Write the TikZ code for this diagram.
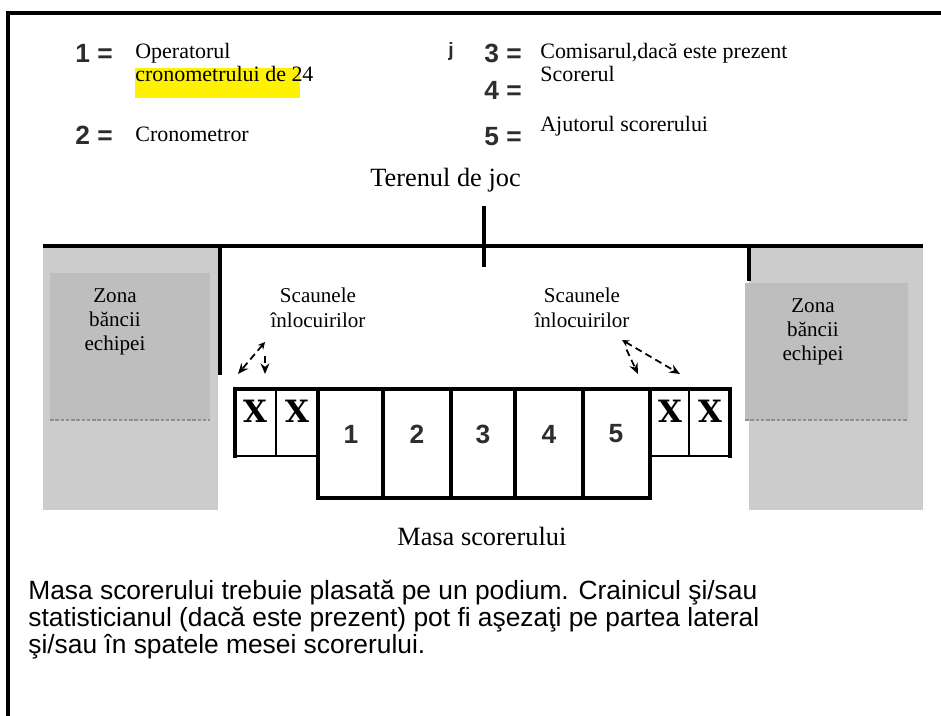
\documentclass[tikz,border=0pt]{standalone}
\usepackage{fontspec}
\setmainfont{Liberation Serif}
\setsansfont{Liberation Sans}
\newfontfamily\slabfont{DejaVu Serif}
\usetikzlibrary{positioning, arrows.meta}

\definecolor{benchgray}{RGB}{204,204,204}
\definecolor{zonegray}{RGB}{190,190,190}
\definecolor{numgray}{RGB}{45,45,45}

\begin{document}
\begin{tikzpicture}[
    x=0.02cm, y=-0.02cm,
    >=Stealth,
    legend/.style={
        anchor=base west,
        inner sep=0pt,
        font=\fontsize{12.5}{13}\selectfont
    },
    numkey/.style={
        inner sep=0pt,
        font=\sffamily\bfseries\fontsize{15}{15}\selectfont,
        text=numgray
    },
    seatx/.style={
        inner sep=0pt,
        font=\slabfont\bfseries\fontsize{17.5}{17.5}\selectfont
    },
    tag/.style={
        anchor=north,
        inner sep=0pt,
        align=center,
        font=\fontsize{12}{13.7}\selectfont
    },
    title/.style={
        anchor=base west,
        inner sep=0pt,
        font=\fontsize{15}{15}\selectfont
    },
    heavy/.style={line width=2.2pt},
    thin/.style={line width=1.2pt},
    subarrow/.style={dashed, line width=1pt, dash pattern=on 4pt off 2.5pt,
        arrows={-Stealth[length=6pt,width=5pt]}},
    bothtips/.style={arrows={Stealth[length=4pt,width=4pt]-Stealth[length=6pt,width=5pt]}}
]
\useasboundingbox (0,0) rectangle (941,716);

% Bench zones
\fill[benchgray] (43,248) rectangle (218,510);
\fill[benchgray] (749,248) rectangle (923,510);
\fill[zonegray] (50,273) rectangle (210,420);
\fill[zonegray] (745,283) rectangle (908,420);
\draw[zonegray!75!black, line width=1pt, dash pattern=on 2pt off 1pt] (50,420) -- (210,420);
\draw[zonegray!75!black, line width=1pt, dash pattern=on 2pt off 1pt] (745,420) -- (908,420);

% Frame
\draw[heavy] (8,716) -- (8,13) -- (941,13);

% Legend
\fill[yellow] (135,68) rectangle (300,98);
\node[numkey, anchor=west] (key1) at (75,53) {1 =};
\node[legend] (op1) at (135,59) {Operatorul};
\node[legend] (op2) at (135,82) {cronometrului de 24};
\node[numkey, anchor=west] (key2) at (75,135) {2 =};
\node[legend] (op3) at (135,142) {Cronometror};
\node[numkey, font=\sffamily\bfseries\fontsize{11}{11}\selectfont] (mark) at (451,52) {j};
\node[numkey, anchor=west] (key3) at (484,53) {3 =};
\node[legend] (op4) at (540,59) {Comisarul,dacă este prezent};
\node[legend] (op5) at (540,82) {Scorerul};
\node[numkey, anchor=west] (key4) at (484,90) {4 =};
\node[numkey, anchor=west] (key5) at (484,137) {5 =};
\node[legend] (op6) at (540,132) {Ajutorul scorerului};

% Playing court
\node[title] (court) at (370,187) {Terenul de joc};
\draw[heavy] (43,246) -- (923,246);
\draw[heavy] (484,206) -- (484,267);
\draw[heavy] (220,246) -- (220,375);
\draw[heavy] (749,246) -- (749,281);

% Labels
\node[tag] (zoneL) at (115,288) {Zona\\băncii\\echipei};
\node[tag] (zoneR) at (813,298) {Zona\\băncii\\echipei};
\node[tag] (subsL) at (318,288) {Scaunele\\înlocuirilor};
\node[tag] (subsR) at (582,288) {Scaunele\\înlocuirilor};

% Scorer's table
\draw[heavy] (318,389) rectangle (650,498);
\foreach \x in {383,451,515,583}
    \draw[heavy] (\x,389) -- (\x,498);
\draw[heavy] (235,458) -- (235,389) -- (318,389);
\draw[thin] (235,456) -- (318,456);
\draw[thin] (276,389) -- (276,456);
\draw[heavy] (650,389) -- (730,389) -- (730,458);
\draw[thin] (650,456) -- (730,456);
\draw[thin] (689,389) -- (689,456);
\foreach \n/\x in {1/351,2/417,3/483,4/549,5/616}
    \node[numkey] (seat\n) at (\x,434) {\n};
\node[seatx] (xa) at (255,411) {X};
\node[seatx] (xb) at (297,411) {X};
\node[seatx] (xc) at (670,411) {X};
\node[seatx] (xd) at (710,411) {X};
\node[title] (table) at (397,545) {Masa scorerului};

% Arrows
\coordinate (srcL) at (265,342);
\coordinate (endL1) at (238,374);
\coordinate (endL2) at (265,374);
\coordinate (srcR) at (622,340);
\coordinate (endR1) at (638,374);
\coordinate (endR2) at (680,374);
\draw[subarrow, bothtips] (srcL) -- (endL1);
\draw[subarrow, shorten <=8pt] (srcL) -- (endL2);
\draw[subarrow, bothtips] (srcR) -- (endR2);
\draw[subarrow, shorten <=6pt] (srcR) -- (endR1);

% Note
\node[anchor=north west, inner sep=0pt, align=left,
      font=\sffamily\fontsize{15}{15.4}\selectfont] (note) at (28,580)
    {Masa scorerului trebuie plasată pe un podium. Crainicul şi/sau\\
     statisticianul (dacă este prezent) pot fi aşezaţi pe partea lateral\\
     şi/sau în spatele mesei scorerului.};

\end{tikzpicture}
\end{document}
